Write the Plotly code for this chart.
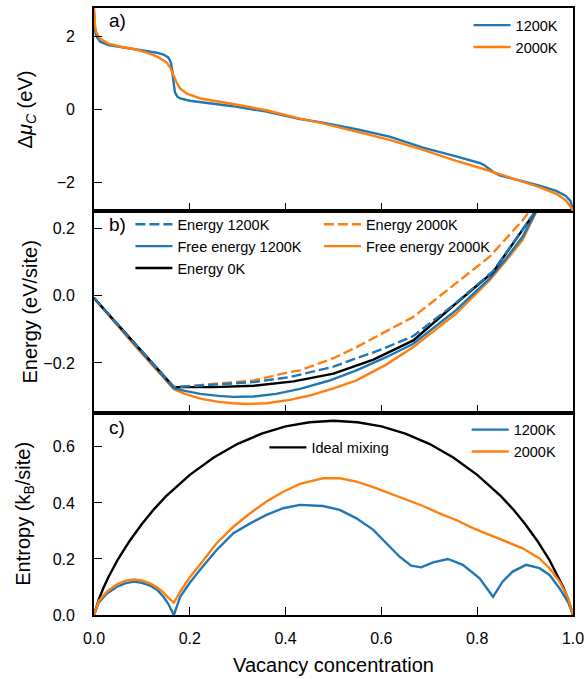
import plotly.graph_objects as go

# ---------------- data ----------------
# panel a: chemical potential difference
mu_x_1200 = [0, 0.002, 0.005, 0.013, 0.03, 0.06, 0.083, 0.11, 0.131, 0.145, 0.155, 0.16, 0.163, 0.166,
             0.169, 0.174, 0.18, 0.2, 0.222, 0.26, 0.29, 0.36, 0.43, 0.478, 0.548, 0.617, 0.687, 0.756,
             0.79, 0.805, 0.815, 0.826, 0.835, 0.847, 0.895, 0.93, 0.965, 0.985, 0.995, 1.0]
mu_y_1200 = [2.7, 2.15, 2.0, 1.85, 1.76, 1.7, 1.66, 1.61, 1.55, 1.5, 1.42, 1.3, 1.1, 0.75,
             0.47, 0.35, 0.3, 0.24, 0.2, 0.14, 0.09, -0.06, -0.26, -0.36, -0.54, -0.74, -1.04, -1.28,
             -1.4, -1.46, -1.52, -1.63, -1.72, -1.8, -1.96, -2.08, -2.22, -2.36, -2.5, -2.77]
mu_x_2000 = [0, 0.002, 0.005, 0.013, 0.03, 0.06, 0.083, 0.11, 0.131, 0.152, 0.16, 0.166, 0.172, 0.18,
             0.194, 0.222, 0.26, 0.29, 0.36, 0.43, 0.478, 0.548, 0.617, 0.687, 0.756, 0.805, 0.826,
             0.847, 0.895, 0.93, 0.965, 0.985, 0.993, 1.0]
mu_y_2000 = [2.77, 2.3, 2.1, 1.93, 1.8, 1.7, 1.65, 1.55, 1.45, 1.28, 1.12, 0.92, 0.75, 0.57,
             0.43, 0.3, 0.22, 0.15, -0.02, -0.25, -0.38, -0.6, -0.83, -1.1, -1.4, -1.59, -1.68,
             -1.77, -1.99, -2.12, -2.3, -2.48, -2.62, -2.77]

# panel b: energies
e0_x = [0, 0.1667, 0.25, 0.3333, 0.4167, 0.5, 0.5833, 0.6667, 0.75, 0.8333, 1.0]
e0_y = [-0.007, -0.272, -0.272, -0.268, -0.255, -0.232, -0.19, -0.133, -0.03, 0.071, 0.41]

e1200_x = [0, 0.1667, 0.222, 0.29, 0.3333, 0.409, 0.5, 0.548, 0.6, 0.6667, 0.75, 0.8333, 1.0]
e1200_y = [-0.007, -0.272, -0.267, -0.262, -0.257, -0.242, -0.211, -0.186, -0.16, -0.12, -0.028, 0.073, 0.41]

e2000_x = [0, 0.1667, 0.222, 0.3333, 0.409, 0.43, 0.5, 0.548, 0.6667, 0.756, 0.826, 0.895, 1.0]
e2000_y = [-0.007, -0.272, -0.266, -0.252, -0.227, -0.222, -0.186, -0.153, -0.063, 0.036, 0.116, 0.225, 0.42]

f1200_x = [0, 0.083, 0.1667, 0.19, 0.222, 0.26, 0.29, 0.3333, 0.38, 0.43, 0.49, 0.548, 0.61, 0.6667,
           0.71, 0.756, 0.79, 0.826, 0.86, 0.895, 0.93, 1.0]
f1200_y = [-0.007, -0.142, -0.275, -0.283, -0.292, -0.298, -0.301, -0.3, -0.292, -0.277, -0.253, -0.222,
           -0.183, -0.143, -0.095, -0.043, 0.003, 0.051, 0.11, 0.176, 0.27, 0.45]

f2000_x = [0, 0.083, 0.1667, 0.19, 0.222, 0.26, 0.29, 0.32, 0.36, 0.409, 0.45, 0.5, 0.548, 0.61, 0.6667,
           0.71, 0.756, 0.79, 0.826, 0.86, 0.895, 0.93, 1.0]
f2000_y = [-0.007, -0.145, -0.278, -0.292, -0.306, -0.316, -0.32, -0.322, -0.32, -0.31, -0.297, -0.276,
           -0.252, -0.205, -0.153, -0.105, -0.053, -0.005, 0.046, 0.104, 0.166, 0.27, 0.47]

# panel c: entropies
s1200_x = [0, 0.01, 0.027, 0.048, 0.065, 0.083, 0.1, 0.117, 0.133, 0.145, 0.155, 0.1667, 0.18, 0.2,
           0.221, 0.256, 0.291, 0.326, 0.36, 0.395, 0.43, 0.478, 0.513, 0.548, 0.583, 0.617, 0.638,
           0.662, 0.683, 0.708, 0.739, 0.77, 0.805, 0.833, 0.853, 0.874, 0.902, 0.93, 0.951, 0.972,
           0.99, 1.0]
s1200_y = [0, 0.045, 0.077, 0.101, 0.113, 0.119, 0.115, 0.105, 0.088, 0.065, 0.04, 0.0, 0.065, 0.115,
           0.161, 0.232, 0.292, 0.327, 0.357, 0.381, 0.393, 0.389, 0.375, 0.345, 0.304, 0.244, 0.208,
           0.176, 0.17, 0.188, 0.2, 0.179, 0.131, 0.065, 0.119, 0.155, 0.179, 0.167, 0.143, 0.095,
           0.045, 0]
s2000_x = [0, 0.01, 0.027, 0.048, 0.065, 0.083, 0.1, 0.117, 0.133, 0.145, 0.155, 0.1667, 0.18, 0.2,
           0.221, 0.256, 0.291, 0.326, 0.36, 0.395, 0.43, 0.478, 0.513, 0.548, 0.583, 0.617, 0.652,
           0.687, 0.721, 0.756, 0.791, 0.826, 0.86, 0.895, 0.93, 0.951, 0.972, 0.99, 1.0]
s2000_y = [0, 0.05, 0.083, 0.11, 0.122, 0.127, 0.123, 0.113, 0.097, 0.08, 0.062, 0.044, 0.083, 0.135,
           0.179, 0.256, 0.315, 0.363, 0.405, 0.44, 0.468, 0.488, 0.488, 0.476, 0.456, 0.435, 0.413,
           0.389, 0.363, 0.339, 0.31, 0.286, 0.262, 0.238, 0.202, 0.167, 0.119, 0.06, 0]
ideal_x = [0, 0.005, 0.01, 0.02, 0.03, 0.05, 0.075, 0.1, 0.125, 0.15, 0.2, 0.25, 0.3, 0.35, 0.4, 0.45,
           0.5, 0.55, 0.6, 0.65, 0.7, 0.75, 0.8, 0.85, 0.875, 0.9, 0.925, 0.95, 0.97, 0.98, 0.99,
           0.995, 1.0]
ideal_y = [0, 0.0315, 0.056, 0.098, 0.135, 0.199, 0.266, 0.325, 0.377, 0.423, 0.5, 0.562, 0.611,
           0.647, 0.673, 0.688, 0.693, 0.688, 0.673, 0.647, 0.611, 0.562, 0.5, 0.423, 0.377, 0.325,
           0.266, 0.199, 0.135, 0.098, 0.056, 0.0315, 0]

x_ticks = [0, 0.2, 0.4, 0.6, 0.8, 1.0]

# ---------------- styling ----------------
BLUE = "#1f77b4"
ORANGE = "#ff7f0e"
BLACK = "#000000"
FONT = "Liberation Sans, Arial, sans-serif"
LW = 2.4
DASH = "10px,4px"

fig = go.Figure()

def line(x, y, color, name, xa, ya, legend, rank, dash="solid"):
    fig.add_trace(go.Scatter(x=x, y=y, mode="lines", name=name,
                             line=dict(color=color, width=LW, dash=dash),
                             xaxis=xa, yaxis=ya, legend=legend, legendrank=rank,
                             hoverinfo="skip"))

# panel a (top)
line(mu_x_1200, mu_y_1200, BLUE, "1200K", "x3", "y3", "legend", 1)
line(mu_x_2000, mu_y_2000, ORANGE, "2000K", "x3", "y3", "legend", 2)

# panel b (middle)
line(f2000_x, f2000_y, ORANGE, "Free energy 2000K", "x2", "y2", "legend3", 2)
line(e2000_x, e2000_y, ORANGE, "Energy 2000K", "x2", "y2", "legend3", 1, DASH)
line(f1200_x, f1200_y, BLUE, "Free energy 1200K", "x2", "y2", "legend2", 2)
line(e0_x, e0_y, BLACK, "Energy 0K", "x2", "y2", "legend2", 3)
line(e1200_x, e1200_y, BLUE, "Energy 1200K", "x2", "y2", "legend2", 1, DASH)

# panel c (bottom)
line(ideal_x, ideal_y, BLACK, "Ideal mixing", "x", "y", "legend4", 1)
line(s1200_x, s1200_y, BLUE, "1200K", "x", "y", "legend5", 1)
line(s2000_x, s2000_y, ORANGE, "2000K", "x", "y", "legend5", 2)

axis_common = dict(showline=True, linecolor="black", linewidth=1.8, mirror=True,
                   ticks="inside", ticklen=8, tickwidth=1.3, tickcolor="black",
                   showgrid=False, zeroline=False, automargin=False,
                   tickfont=dict(family=FONT, size=16, color="black"))

xcommon = dict(axis_common, range=[0, 1], tickvals=x_ticks, tickformat=".1f")
fig.update_layout(
    xaxis=dict(xcommon, anchor="y", ticklabelstandoff=8,
               title=dict(text="Vacancy concentration", font=dict(family=FONT, size=20), standoff=12)),
    xaxis2=dict(xcommon, anchor="y2", matches="x", showticklabels=False),
    xaxis3=dict(xcommon, anchor="y3", matches="x", showticklabels=False),
    yaxis=dict(axis_common, domain=[0, 0.3333], range=[0, 0.722],
               tickvals=[0, 0.2, 0.4, 0.6], tickformat=".1f", ticklabelstandoff=14,
               title=dict(text="Entropy (k<sub>B</sub>/site)", font=dict(family=FONT, size=20), standoff=17)),
    yaxis2=dict(axis_common, domain=[0.3333, 0.6656], range=[-0.348, 0.252],
                tickvals=[-0.2, 0, 0.2], tickformat=".1f", ticklabelstandoff=14,
                title=dict(text="Energy (eV/site)", font=dict(family=FONT, size=20), standoff=0)),
    yaxis3=dict(axis_common, domain=[0.6656, 1], range=[-2.77, 2.77],
                tickvals=[-2, 0, 2], tickformat="d", ticklabelstandoff=14,
                title=dict(text="Δ<i>μ</i><sub><i>C</i></sub> (eV)", font=dict(family=FONT, size=20), standoff=19)),
)

leg_common = dict(bgcolor="rgba(0,0,0,0)", borderwidth=0, font=dict(family=FONT, size=14.5, color="black"),
                  xanchor="left", yanchor="top", tracegroupgap=0, itemwidth=37, traceorder="normal")
fig.update_layout(
    legend=dict(leg_common, x=0.782, y=0.998),
    legend2=dict(leg_common, x=0.076, y=0.670),
    legend3=dict(leg_common, x=0.4695, y=0.670),
    legend4=dict(leg_common, x=0.3557, y=0.3024),
    legend5=dict(leg_common, x=0.778, y=0.3317),
)

for txt, yp in [("a)", 21), ("b)", 224.5), ("c)", 427)]:
    fig.add_annotation(text=txt, xref="paper", yref="paper", x=(107 - 93.7) / 479.3,
                       y=(615 - yp) / 607, xanchor="left", yanchor="middle", showarrow=False,
                       font=dict(family=FONT, size=19, color="black"))

fig.update_layout(width=587, height=679, margin=dict(l=94, r=14, t=8, b=64),
                  paper_bgcolor="white", plot_bgcolor="white", showlegend=True,
                  font=dict(family=FONT, color="black"))

fig.write_html("out.html", config={"displayModeBar": False},
               post_script="document.body.style.margin='0px';")
